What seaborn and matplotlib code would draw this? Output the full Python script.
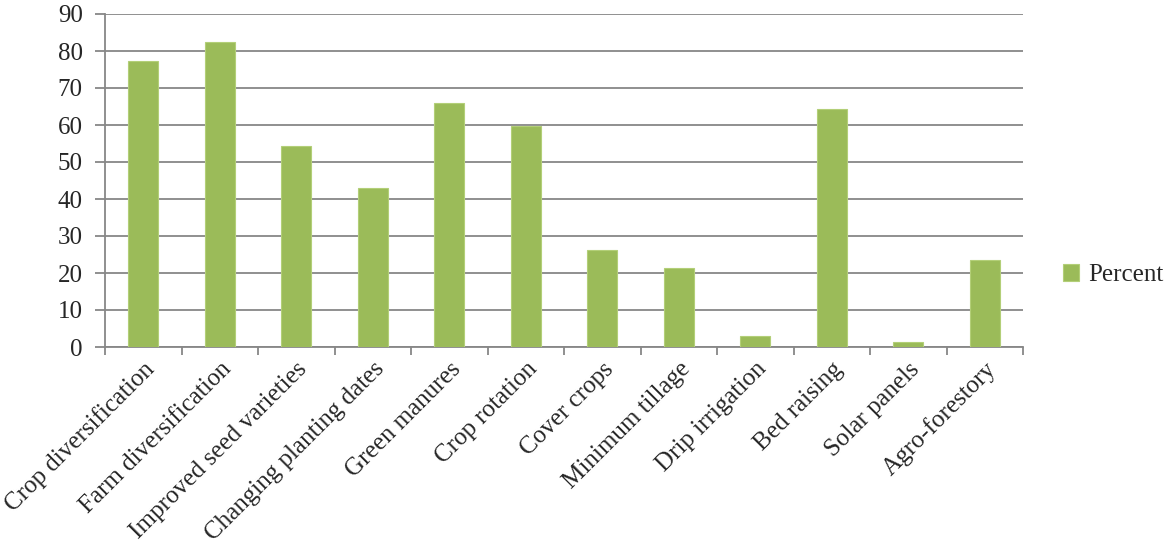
import matplotlib
matplotlib.use("Agg")
import matplotlib.pyplot as plt
import seaborn as sns
import pandas as pd
from matplotlib.ticker import FixedLocator, MultipleLocator

categories = ["Crop diversification", "Farm diversification", "Improved seed varieties",
              "Changing planting dates", "Green manures", "Crop rotation", "Cover crops",
              "Minimum tillage", "Drip irrigation", "Bed raising", "Solar panels", "Agro-forestory"]
percent = [77.2, 82.4, 54.4, 43.0, 66.0, 59.8, 26.1, 21.4, 3.1, 64.4, 1.4, 23.5]
series_name = "Percent"

df = pd.DataFrame({"category": categories, "value": percent})

sns.set_style("white")
plt.rcParams['font.family'] = ['Liberation Serif', 'DejaVu Serif']

fig = plt.figure(figsize=(11.7, 5.48), dpi=100)
ax = fig.add_axes([105/1170, 1-347/548, (1023-105)/1170, (347-14)/548])

bar_color = "#9BBB59"
sns.barplot(data=df, x="category", y="value", color=bar_color, saturation=1, width=0.39,
            ax=ax, label=series_name, edgecolor="#B3CF78", linewidth=0.8, zorder=3)

ax.set_xlim(-0.5, len(categories) - 0.5)
ax.set_ylim(0, 90)
ax.yaxis.set_major_locator(MultipleLocator(10))
ax.yaxis.grid(True, color="#878787", linewidth=1.3, zorder=0)
ax.set_axisbelow(True)
ax.set_xlabel("")
ax.set_ylabel("")

for s in ["top", "right"]:
    ax.spines[s].set_visible(False)
for s in ["left", "bottom"]:
    ax.spines[s].set_color("#878787")
    ax.spines[s].set_linewidth(1.3)

ax.tick_params(axis="y", which="major", length=7, width=1.3, color="#878787",
               labelsize=18, pad=9, left=True)
ax.tick_params(axis="x", which="major", length=0, labelsize=18, pad=8)
ax.xaxis.set_minor_locator(FixedLocator([i - 0.5 for i in range(len(categories) + 1)]))
ax.tick_params(axis="x", which="minor", length=6, width=1.3, color="#878787", bottom=True)
ax.set_xticks(range(len(categories)))
ax.set_xticklabels(categories, rotation=45, ha="right", rotation_mode="anchor")

ax.legend(loc="center left", bbox_to_anchor=(1.019, 0.216), frameon=False,
          fontsize=18, handlelength=0.65, handleheight=0.65, handletextpad=0.35)

fig.savefig("out.png", dpi=100)
